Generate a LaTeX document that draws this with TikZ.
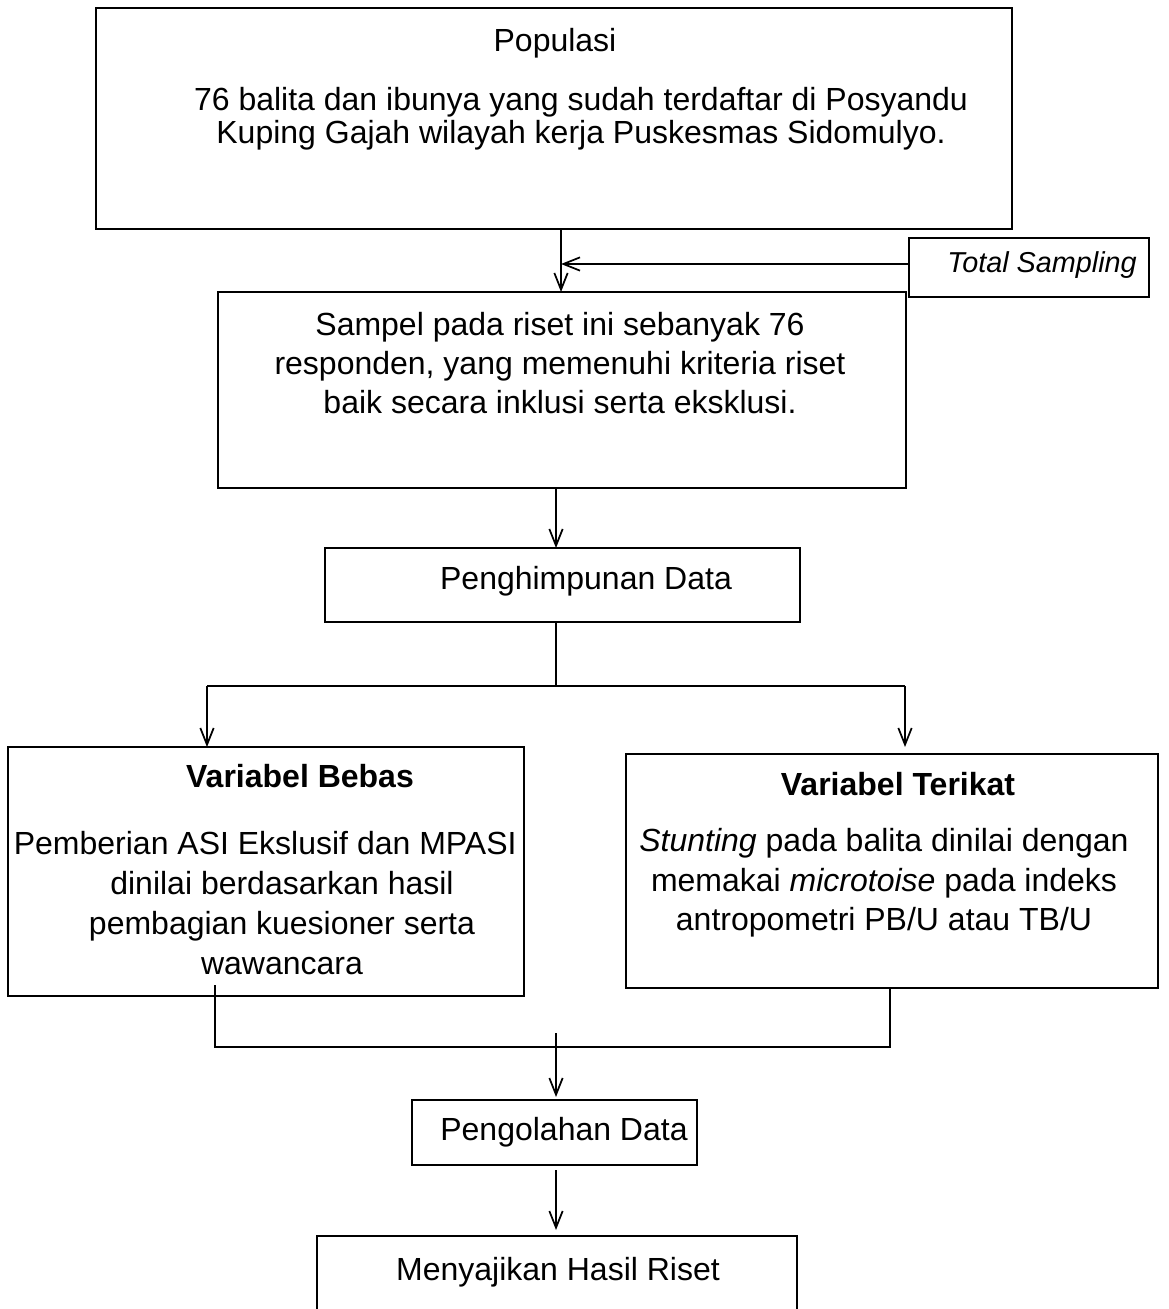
\documentclass[tikz,border=0pt]{standalone}
\usepackage{fontspec}
\setmainfont{Liberation Sans}
\usetikzlibrary{arrows.meta}
\newdimen\px \px=0.75pt

\tikzset{
  box/.style={draw, line width=1.3pt, inner sep=0pt, outer sep=0pt},
  txt/.style={align=center, inner sep=0pt, font=\fontsize{24}{29.5}\selectfont},
  ttl/.style={txt, font=\fontsize{24}{29.5}\selectfont\bfseries},
}

\begin{document}
\begin{tikzpicture}[x=0.75pt, y=-0.75pt, line width=1.3pt,
    >={Straight Barb[length=12.5pt,width=10pt]}]
\useasboundingbox (0,0) rectangle (1168,1309);

% boxes
\node[box, minimum width=916\px, minimum height=221\px] (pop) at (554,118.5) {};
\node[box, minimum width=240\px, minimum height=59\px] (ts) at (1029,267.5) {};
\node[box, minimum width=688\px, minimum height=196\px] (sampel) at (562,390) {};
\node[box, minimum width=475\px, minimum height=74\px] (hp) at (562.5,585) {};
\node[box, minimum width=516\px, minimum height=249\px] (bebas) at (266,871.5) {};
\node[box, minimum width=532\px, minimum height=234\px] (terikat) at (892,871) {};
\node[box, minimum width=285\px, minimum height=65\px] (olah) at (554.5,1132.5) {};
\node[box, minimum width=480\px, minimum height=94\px] (saji) at (557,1283) {};

% texts
\node[txt] (popT) at (555,43) {Populasi};
\node[txt, font=\fontsize{24}{25}\selectfont] (popB) at (581,119)
  {76 balita dan ibunya yang sudah terdaftar di Posyandu\\
   Kuping Gajah wilayah kerja Puskesmas Sidomulyo.};
\node[txt, font=\fontsize{21.6}{26}\selectfont\itshape] (tsT) at (1042,265) {Total Sampling};
\node[txt] (sampelT) at (560,363)
  {Sampel pada riset ini sebanyak 76\\
   responden, yang memenuhi kriteria riset\\
   baik secara inklusi serta eksklusi.};
\node[txt] (hpT) at (586,581) {Penghimpunan Data};
\node[ttl] (bebasT) at (300,776) {Variabel Bebas};
\node[txt, font=\fontsize{24}{30}\selectfont] (bebasB) at (282,903)
  {Pemberian ASI Ekslusif dan MPASI\hspace*{1.05em}\\
   dinilai berdasarkan hasil\\
   pembagian kuesioner serta\\
   wawancara};
\node[ttl] (terikatT) at (898,784) {Variabel Terikat};
\node[txt] (terikatB) at (884,883)
  {\textit{Stunting} pada balita dinilai dengan\\
   memakai \textit{microtoise} pada indeks\\
   antropometri PB/U atau TB/U};
\node[txt] (olahT) at (564,1132) {Pengolahan Data};
\node[txt] (sajiT) at (558,1272) {Menyajikan Hasil Riset};

% connectors
\coordinate (a1) at (561,0);
\coordinate (a2) at (556,0);
\coordinate (tsy) at (0,264);
\coordinate (sl) at (207,686);
\coordinate (sr) at (905,686);
\coordinate (jl) at (215,1047);
\coordinate (jr) at (890,1047);

\draw[->] (a1 |- pop.south) -- (a1 |- sampel.north);
\draw[->] (ts.west |- tsy) -- (a1 |- tsy);
\draw[->] (a2 |- sampel.south) -- (a2 |- hp.north);
\draw (a2 |- hp.south) -- (a2 |- sl);
\draw (sl) -- (sr);
\draw[->] (sl) -- (sl |- bebas.north);
\draw[->, shorten >=7\px] (sr) -- (sr |- terikat.north);
\draw[shorten <=-11\px] (jl |- bebas.south) -- (jl) -- (jr) -- (jr |- terikat.south);
\draw[->, shorten <=-14\px, shorten >=3\px] (a2 |- jl) -- (a2 |- olah.north);
\draw[->, shorten <=5\px, shorten >=6\px] (a2 |- olah.south) -- (a2 |- saji.north);
\end{tikzpicture}
\end{document}
